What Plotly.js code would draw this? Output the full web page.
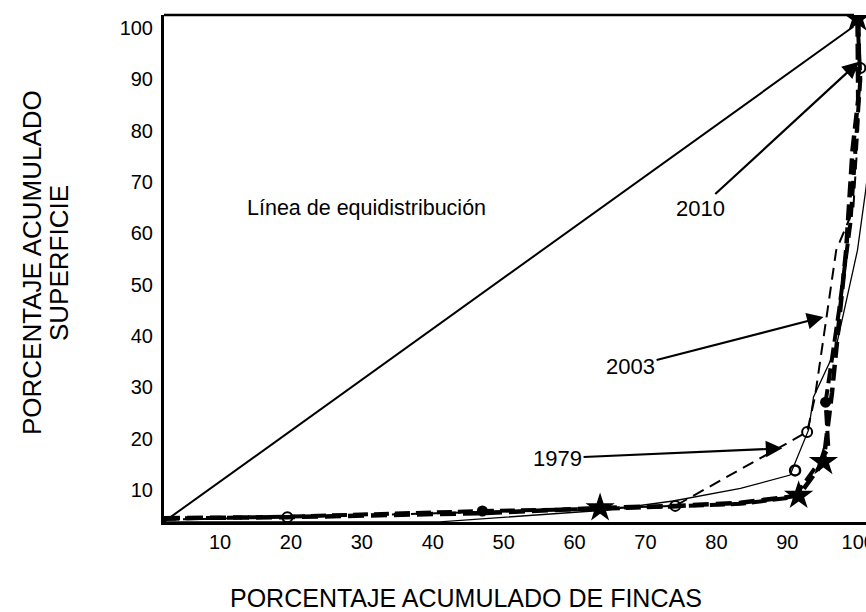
<!DOCTYPE html>
<html>
<head>
<meta charset="utf-8">
<script src="https://cdn.plot.ly/plotly-3.0.1.min.js"></script>
<style>html,body{margin:0;padding:0;background:#fff;overflow:hidden;}#chart{width:866px;height:612px;}</style>
</head>
<body>
<div id="chart"></div>
<script>
// Tick labels
const xTicks = [10, 20, 30, 40, 50, 60, 70, 80, 90, 100];
const yTicks = [10, 20, 30, 40, 50, 60, 70, 80, 90, 100];

// Línea de equidistribución
const eqX = [2.1, 99.3];
const eqY = [3.8, 100.2];

// 1979 (thin dashed, open circles)
const s1979X = [2.1, 19.5, 47.0, 74.2, 92.8, 93.9, 96.9, 99.3, 100.0, 100.3, 100.2];
const s1979Y = [4.2, 4.7, 5.7, 6.9, 21.3, 28.1, 56.7, 64.6, 80.0, 92.2, 101.5];
const m1979X = [19.5, 74.2, 92.8, 100.3];
const m1979Y = [4.7, 6.9, 21.3, 92.2];

// thin solid series (half-filled circle)
const sSolidX = [2.1, 41.0, 64.6, 73.9, 83.4, 90.4, 93.0, 93.7, 96.8, 99.9, 101.1, 103.5];
const sSolidY = [3.8, 3.8, 6.1, 7.85, 10.3, 12.9, 21.7, 28.1, 37.3, 56.7, 68.8, 100.0];
const mSolidX = [91.1];
const mSolidY = [13.8];

// 2010 (thick dashed, stars)
const s2010X = [2.1, 19.5, 47.0, 63.6, 74.2, 83.4, 91.6, 95.1, 96.3, 98.3, 99.2, 100.0, 99.9];
const s2010Y = [4.5, 4.7, 5.5, 6.5, 6.9, 7.5, 8.9, 15.5, 28.9, 56.7, 76.2, 86.0, 101.9];
const m2010X = [63.6, 91.6, 95.1, 99.9];
const m2010Y = [6.5, 8.9, 15.5, 101.9];

// 2003 (thick dashed, filled circles)
const s2003X = [2.1, 19.5, 47.0, 63.6, 74.2, 83.4, 91.0, 95.8, 95.4, 97.3, 98.9, 100.3, 99.9];
const s2003Y = [4.4, 4.8, 5.9, 6.3, 6.8, 7.3, 8.6, 18.0, 27.1, 45.0, 62.0, 90.0, 101.9];
const m2003X = [47.0, 95.4];
const m2003Y = [5.9, 27.1];

const FONT = 'Liberation Sans, Arial, sans-serif';

const traces = [
  {x: eqX, y: eqY, mode: 'lines', line: {color: '#000', width: 2}, hoverinfo: 'skip'},
  {x: sSolidX, y: sSolidY, mode: 'lines', line: {color: '#000', width: 1.3}},
  {x: s1979X, y: s1979Y, mode: 'lines', line: {color: '#000', width: 2, dash: '12px,7px'}},
  {x: s2003X, y: s2003Y, mode: 'lines', line: {color: '#000', width: 4, dash: '15px,6px'}},
  {x: s2010X, y: s2010Y, mode: 'lines', line: {color: '#000', width: 4.5, dash: '16px,7px'}},
  {x: m1979X, y: m1979Y, mode: 'markers', marker: {symbol: 'circle-open', size: 10, color: '#000', line: {width: 2, color: '#000'}}},
  {x: mSolidX, y: mSolidY, mode: 'markers', marker: {symbol: 'circle-open', size: 10, color: '#000', line: {width: 2.5, color: '#000'}}},
  {x: m2003X, y: m2003Y, mode: 'markers', marker: {symbol: 'circle', size: 11, color: '#000'}},
  {x: m2010X, y: m2010Y, mode: 'markers', marker: {symbol: 'star', size: 22, color: '#000', line: {width: 0}}}
];

const layout = {
  width: 866, height: 612,
  margin: {l: 164, r: 0, t: 15, b: 90, pad: 0},
  paper_bgcolor: '#fff', plot_bgcolor: '#fff',
  showlegend: false,
  font: {family: FONT, color: '#000'},
  xaxis: {
    range: [2.1, 101.1], tickvals: xTicks, ticktext: xTicks.map(String),
    showgrid: false, zeroline: false, showline: true, linewidth: 3, linecolor: '#000',
    ticks: '', ticklabelstandoff: 0, ticklabeloverflow: 'allow',
    tickfont: {size: 20, family: FONT, color: '#000'}
  },
  yaxis: {
    range: [3.76, 102.5], tickvals: yTicks, ticktext: yTicks.map(String),
    showgrid: false, zeroline: false, showline: true, linewidth: 3, linecolor: '#000',
    ticks: '', ticklabelstandoff: 4, ticklabeloverflow: 'allow',
    tickfont: {size: 20, family: FONT, color: '#000'}
  },
  shapes: [
    {type: 'line', xref: 'x', yref: 'paper', x0: 2.1, x1: 99.4, y0: 1, y1: 1, line: {color: '#000', width: 2.5}}
  ],
  annotations: [
    {xref: 'paper', yref: 'paper', x: 0.430, y: -0.150, text: 'PORCENTAJE ACUMULADO DE FINCAS', showarrow: false, xanchor: 'center', yanchor: 'middle', font: {size: 25, family: FONT}},
    {xref: 'paper', yref: 'paper', x: (32 - 164) / 702, y: (522 - 263) / 507, text: 'PORCENTAJE ACUMULADO', textangle: -90, showarrow: false, xanchor: 'center', yanchor: 'middle', font: {size: 26, family: FONT}},
    {xref: 'paper', yref: 'paper', x: (59 - 164) / 702, y: (522 - 263) / 507, text: 'SUPERFICIE', textangle: -90, showarrow: false, xanchor: 'center', yanchor: 'middle', font: {size: 26, family: FONT}},
    {xref: 'x', yref: 'y', x: 30.6, y: 64.9, text: 'Línea de equidistribución', showarrow: false, font: {size: 21.5, family: FONT}},
    {xref: 'x', yref: 'y', x: 100.1, y: 93.4, axref: 'x', ayref: 'y', ax: 77.7, ay: 64.9, text: '2010', showarrow: true, arrowhead: 2, arrowsize: 1.5, arrowwidth: 2.2, arrowcolor: '#000', standoff: 0, font: {size: 22, family: FONT}},
    {xref: 'x', yref: 'y', x: 95.1, y: 43.7, axref: 'x', ayref: 'y', ax: 67.9, ay: 34.0, text: '2003', showarrow: true, arrowhead: 2, arrowsize: 1.5, arrowwidth: 2.2, arrowcolor: '#000', standoff: 0, font: {size: 22, family: FONT}},
    {xref: 'x', yref: 'y', x: 89.3, y: 18.1, axref: 'x', ayref: 'y', ax: 57.6, ay: 16.2, text: '1979', showarrow: true, arrowhead: 2, arrowsize: 1.5, arrowwidth: 2.2, arrowcolor: '#000', standoff: 0, font: {size: 22, family: FONT}}
  ]
};

Plotly.newPlot('chart', traces, layout, {displayModeBar: false, staticPlot: true});
</script>
</body>
</html>
